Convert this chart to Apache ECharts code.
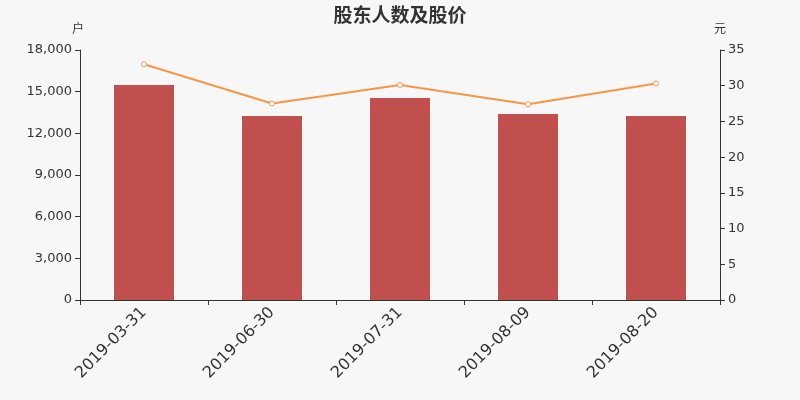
<!DOCTYPE html>
<html>
<head>
<meta charset="UTF-8">
<title>股东人数及股价</title>
<script src="https://cdn.jsdelivr.net/npm/echarts@6/dist/echarts.min.js"></script>
</head>
<body style="margin:0;background:#f7f7f7;">
<div id="main" style="width:800px;height:400px;"></div>
<script>
var dates = ['2019-03-31', '2019-06-30', '2019-07-31', '2019-08-09', '2019-08-20'];
var holders = [15480, 13250, 14540, 13390, 13250];
var prices = [33.0, 27.5, 30.1, 27.4, 30.3];
var leftTicks = {min: 0, max: 18000, interval: 3000};
var rightTicks = {min: 0, max: 35, interval: 5};

var chart = echarts.init(document.getElementById('main'));
var axisText = {color: '#333', fontSize: 13, fontFamily: 'DejaVu Sans'};
var option = {
    backgroundColor: '#f7f7f7',
    title: {
        text: '股东人数及股价',
        left: 'center',
        top: 0,
        textStyle: {fontSize: 19, fontWeight: 'bold', color: '#333', fontFamily: 'Noto Sans CJK SC'}
    },
    grid: {left: 80, right: 80, top: 50, bottom: 100, containLabel: false},
    xAxis: {
        type: 'category',
        data: dates,
        axisLine: {lineStyle: {color: '#333'}},
        axisTick: {show: true, alignWithLabel: false, length: 5},
        axisLabel: {rotate: 45, fontSize: 16, color: '#333', margin: 10, fontFamily: 'DejaVu Sans'}
    },
    yAxis: [{
        type: 'value',
        name: '户',
        nameGap: 15,
        nameTextStyle: {color: '#333', fontSize: 12, fontFamily: 'Noto Sans CJK SC', align: 'center', padding: [0, 4, 1, 0]},
        min: leftTicks.min, max: leftTicks.max, interval: leftTicks.interval,
        axisLine: {show: true, lineStyle: {color: '#333'}},
        axisTick: {show: true, length: 5},
        splitLine: {show: false},
        axisLabel: Object.assign({
            formatter: function (v) { return v.toLocaleString('en-US'); }
        }, axisText)
    }, {
        type: 'value',
        name: '元',
        nameGap: 15,
        nameTextStyle: {color: '#333', fontSize: 12, fontFamily: 'Noto Sans CJK SC', align: 'center', padding: [0, 0, 1, 0]},
        min: rightTicks.min, max: rightTicks.max, interval: rightTicks.interval,
        axisLine: {show: true, lineStyle: {color: '#333'}},
        axisTick: {show: true, length: 5},
        splitLine: {show: false},
        axisLabel: axisText
    }],
    series: [{
        name: '股东人数',
        type: 'bar',
        data: holders,
        barWidth: 60,
        itemStyle: {color: '#c0504d'}
    }, {
        name: '股价',
        type: 'line',
        yAxisIndex: 1,
        data: prices,
        symbol: 'circle',
        symbolSize: 5,
        lineStyle: {color: '#f79646', width: 2},
        itemStyle: {color: '#fff', borderColor: '#f79646', borderWidth: 1}
    }]
};
chart.setOption(option);
</script>
</body>
</html>
